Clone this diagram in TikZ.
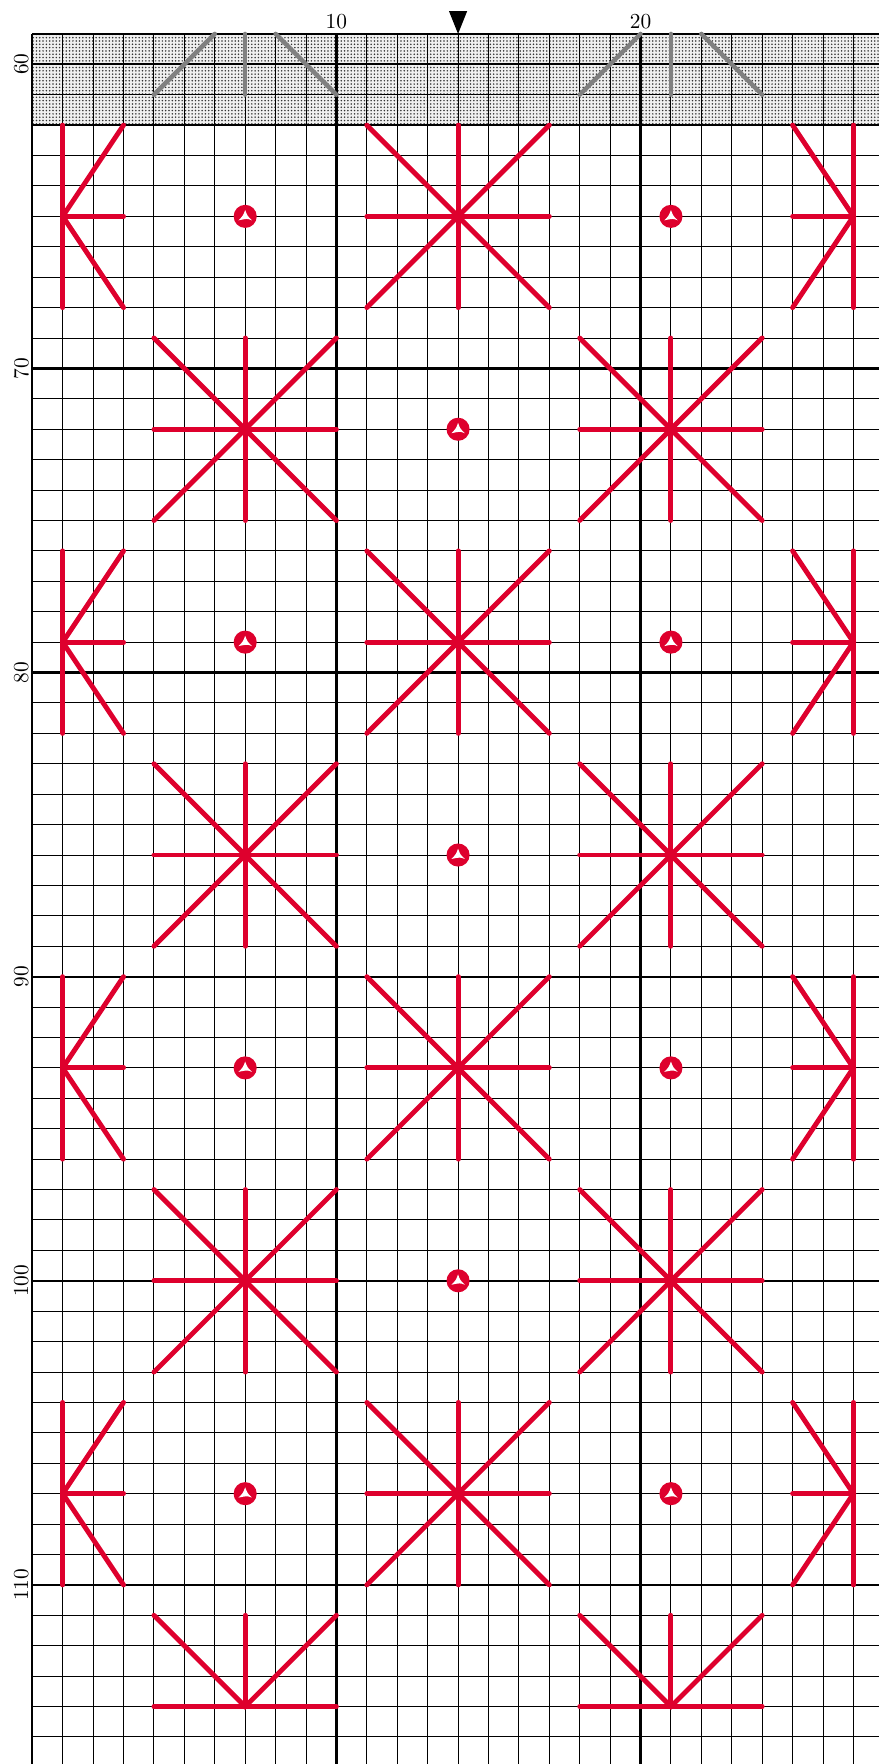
\documentclass[tikz,border=0pt]{standalone}
\usetikzlibrary{patterns.meta}
\definecolor{stitchred}{RGB}{222,0,45}
\definecolor{stitchgray}{RGB}{128,128,128}
\begin{document}
\begin{tikzpicture}[x=0.5cm,y=-0.5cm,
  gridthin/.style={draw=black,line width=0.45pt},
  gridthick/.style={draw=black,line width=1.05pt},
  stitch/.style={draw=stitchred,line width=2.3pt,line cap=round},
  gstitch/.style={draw=stitchgray,line width=2.1pt,line cap=round},
  lbl/.style={inner sep=0pt,font=\fontsize{10}{12}\selectfont}]
\useasboundingbox (-1.062,57.886) rectangle (27.84,115.89);
% shaded band (rows 59-62)
\fill[gray!12] (0,59) rectangle (27.84,62);
\fill[pattern={Dots[distance=1.55pt,radius=0.4pt]},pattern color=black!80] (0,59) rectangle (27.84,62);
% thin grid
\foreach \c in {1,...,27} \draw[gridthin] (\c,59) -- (\c,115.89);
\foreach \r in {61,...,115} \draw[gridthin] (0,\r) -- (27.84,\r);
% thick grid
\foreach \c in {0,10,20} \draw[gridthick] (\c,59) -- (\c,115.89);
\foreach \r in {60,70,...,110} \draw[gridthick] (0,\r) -- (27.84,\r);
\draw[gridthick] (0,59) -- (27.84,59);
\draw[gridthin,line width=0.6pt] (0,62) -- (27.84,62);
% labels
\node[lbl] (c10) at (10,58.6) {10};
\node[lbl] (c20) at (20,58.6) {20};
\foreach \r in {60,70,...,110} \node[lbl,rotate=90] (r\r) at (-0.36,\r) {\r};
% centre marker
\fill[black] (13.7,58.25) -- (14.3,58.25) -- (14,59) -- cycle;
% gray partial stitches in shaded band
\foreach \cx in {7,21} {
  \draw[gstitch] (\cx-1,59) -- (\cx-3,61);
  \draw[gstitch] (\cx,59) -- (\cx,61);
  \draw[gstitch] (\cx+1,59) -- (\cx+3,61);
}
% full stars
\foreach \cx/\cy in {14/65,7/72,21/72,14/79,7/86,21/86,14/93,7/100,21/100,14/107} {
  \draw[stitch] (\cx-3,\cy) -- (\cx+3,\cy);
  \draw[stitch] (\cx,\cy-3) -- (\cx,\cy+3);
  \draw[stitch] (\cx-3,\cy-3) -- (\cx+3,\cy+3);
  \draw[stitch] (\cx-3,\cy+3) -- (\cx+3,\cy-3);
}
% bottom half stars
\foreach \cx/\cy in {7/114,21/114} {
  \draw[stitch] (\cx-3,\cy) -- (\cx+3,\cy);
  \draw[stitch] (\cx,\cy-3) -- (\cx,\cy);
  \draw[stitch] (\cx-3,\cy-3) -- (\cx,\cy) -- (\cx+3,\cy-3);
}
% edge half stars
\foreach \cy in {65,79,93,107} {
  \draw[stitch] (1,\cy-3) -- (1,\cy+3);
  \draw[stitch] (1,\cy) -- (3,\cy);
  \draw[stitch] (3,\cy-3) -- (1,\cy) -- (3,\cy+3);
  \draw[stitch] (27,\cy-3) -- (27,\cy+3);
  \draw[stitch] (25,\cy) -- (27,\cy);
  \draw[stitch] (25,\cy-3) -- (27,\cy) -- (25,\cy+3);
}
% dots with white triangle
\foreach \cx/\cy in {7/65,21/65,14/72,7/79,21/79,14/86,7/93,21/93,14/100,7/107,21/107} {
  \fill[stitchred] (\cx,\cy) circle[radius=0.38];
  \fill[white] (\cx,\cy-0.21) .. controls (\cx+0.07,\cy-0.02) .. (\cx+0.22,\cy+0.13)
     .. controls (\cx+0.07,\cy+0.07) .. (\cx-0.22,\cy+0.13)
     .. controls (\cx-0.07,\cy-0.02) .. cycle;
}
\end{tikzpicture}
\end{document}
